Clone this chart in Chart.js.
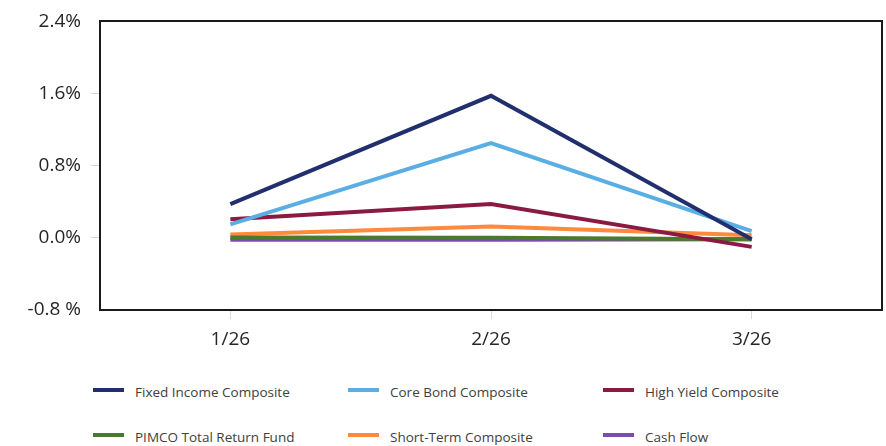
<!DOCTYPE html>
<html><head><meta charset="utf-8">
<script src="https://cdn.jsdelivr.net/npm/chart.js@4"></script>
<style>
html,body{margin:0;padding:0;background:#fff;}
#wrap{position:relative;width:886px;height:446px;overflow:hidden;}
#c{position:absolute;left:0;top:0;}
.item{position:absolute;height:20px;display:flex;align-items:center;font-family:"Open Sans",sans-serif;font-size:13.5px;color:#404040;white-space:nowrap;}
.sw{display:inline-block;width:31px;height:4px;margin-right:11px;margin-top:-4px;}
</style></head>
<body><div id="wrap"><canvas id="c" width="886" height="370"></canvas><div id="legend"></div></div>
<script>
const categories = ["1/26", "2/26", "3/26"];
const seriesNames = ["Fixed Income Composite", "Core Bond Composite", "High Yield Composite", "PIMCO Total Return Fund", "Short-Term Composite", "Cash Flow"];
const fixedIncome = [0.375, 1.575, -0.015];
const coreBond = [0.15, 1.05, 0.075];
const highYield = [0.205, 0.375, -0.10];
const pimco = [0.003, 0.0, -0.015];
const shortTerm = [0.038, 0.125, 0.03];
const cashFlow = [-0.02, -0.02, -0.015];
const yTickLabels = ["-0.8 %", "0.0%", "0.8%", "1.6%", "2.4%"];
const colors = ["#222f6e", "#5aaee3", "#8b1a42", "#4a7a2c", "#ff8a3d", "#7a4bb0"];

const seriesValues = [fixedIncome, coreBond, highYield, pimco, shortTerm, cashFlow];

const boxPlugin = {
  id: 'box',
  beforeDatasetsDraw(chart) {
    const a = chart.chartArea, ctx = chart.ctx;
    ctx.save();
    ctx.strokeStyle = '#1a1a1a';
    ctx.lineWidth = 2;
    ctx.strokeRect(Math.round(a.left), Math.round(a.top), Math.round(a.right - a.left), Math.round(a.bottom - a.top));
    ctx.restore();
  }
};

new Chart(document.getElementById('c'), {
  type: 'line',
  data: {
    labels: categories,
    datasets: seriesValues.map((v, i) => ({
      label: seriesNames[i],
      data: v,
      borderColor: colors[i],
      backgroundColor: colors[i],
      borderWidth: 4,
      pointRadius: 0,
      tension: 0,
      fill: false
    }))
  },
  options: {
    responsive: false,
    animation: false,
    devicePixelRatio: 1,
    layout: { padding: { top: 18, right: 4, left: 0, bottom: 0 } },
    plugins: { legend: { display: false }, tooltip: { enabled: false } },
    scales: {
      x: {
        offset: true,
        grid: { offset: false, drawOnChartArea: false, tickLength: 9, color: '#d9d9d9' },
        border: { display: false },
        ticks: { padding: 9, color: '#262626', font: { family: 'Open Sans', size: 19 } },
        afterFit: s => { s.height = 60; }
      },
      y: {
        min: -0.8, max: 2.4,
        ticks: {
          stepSize: 0.8,
          padding: 10,
          color: '#262626',
          font: { family: 'Open Sans', size: 19 },
          callback: (v, i) => yTickLabels[i]
        },
        grid: {
          drawOnChartArea: false, tickLength: 9,
          color: c => (c.index === 0 || c.index === 4) ? 'rgba(0,0,0,0)' : '#d9d9d9'
        },
        border: { display: false },
        afterFit: s => { s.width = 100; }
      }
    }
  },
  plugins: [boxPlugin]
});

const leg = document.getElementById('legend');
const colX = [93, 348, 603];
const rowY = [382, 427];
seriesNames.forEach((n, i) => {
  const d = document.createElement('div');
  d.className = 'item';
  d.style.left = colX[i % 3] + 'px';
  d.style.top = rowY[Math.floor(i / 3)] + 'px';
  const sw = document.createElement('span');
  sw.className = 'sw';
  sw.style.background = colors[i];
  d.appendChild(sw);
  d.appendChild(document.createTextNode(n));
  leg.appendChild(d);
});
</script>
</body></html>
